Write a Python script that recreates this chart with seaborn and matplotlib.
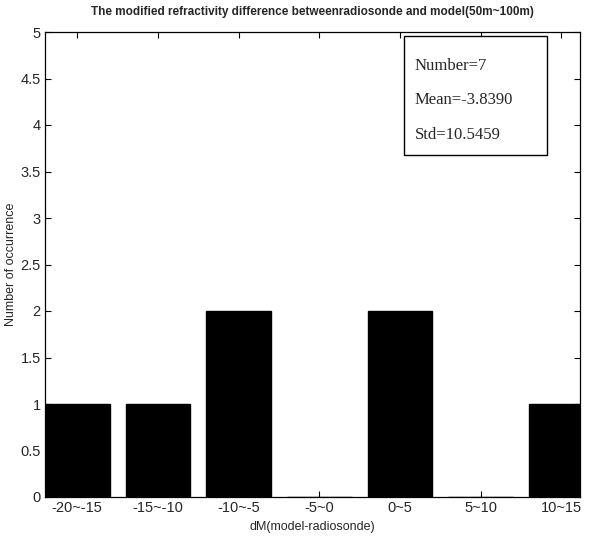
import matplotlib
matplotlib.use("Agg")
import matplotlib.pyplot as plt
import seaborn as sns
import pandas as pd

categories = ["-20~-15", "-15~-10", "-10~-5", "-5~0", "0~5", "5~10", "10~15"]
counts = [1, 1, 2, 0, 2, 0, 1]
stats_lines = ["Number=7", "Mean=-3.8390", "Std=10.5459"]
yticks = [0, 0.5, 1, 1.5, 2, 2.5, 3, 3.5, 4, 4.5, 5]
ytick_labels = ["0", "0.5", "1", "1.5", "2", "2.5", "3", "3.5", "4", "4.5", "5"]

sns.set_style("white")
plt.rcParams["font.family"] = ["Liberation Sans", "DejaVu Sans"]

df = pd.DataFrame({"cat": categories, "count": counts})

fig = plt.figure(figsize=(5.93, 5.38), dpi=100)
ax = fig.add_axes([45/593, 1-497/538, 535/593, 465/538])
sns.barplot(data=df, x="cat", y="count", color="black", width=0.8,
            saturation=1, ax=ax, edgecolor="black")

ax.set_xlim(-0.4, 6.23)
ax.set_ylim(0, 5)
ax.set_yticks(yticks)
ax.set_yticklabels(ytick_labels, fontsize=10.5)
ax.tick_params(axis="x", labelsize=10.5)
ax.tick_params(direction="in", length=4, width=0.8, top=True, right=True,
               bottom=True, left=True, color="black", pad=3)
for s in ax.spines.values():
    s.set_visible(True)
    s.set_color("black")
    s.set_linewidth(0.9)

ax.set_xlabel("dM(model-radiosonde)", fontsize=9, labelpad=4)
ax.set_ylabel("Number of occurrence", fontsize=9)
ax.yaxis.set_label_coords(-0.052, 0.5)
ax.set_title("The modified refractivity difference betweenradiosonde and model(50m~100m)",
             fontsize=8.5, fontweight="bold", pad=12)

# statistics box
bx0, by0 = 404/593, 1-155/538
bw, bh = (547-404)/593, (155-36)/538
fig.patches.append(plt.Rectangle((bx0, by0), bw, bh, transform=fig.transFigure,
                                 facecolor="white", edgecolor="black", linewidth=1.0))
for i, line in enumerate(stats_lines):
    fig.text(415/593, 1-(66+i*34.5)/538, line, family=["Liberation Serif"],
             fontsize=12, va="center", ha="left")

fig.savefig("out.png", dpi=100)
